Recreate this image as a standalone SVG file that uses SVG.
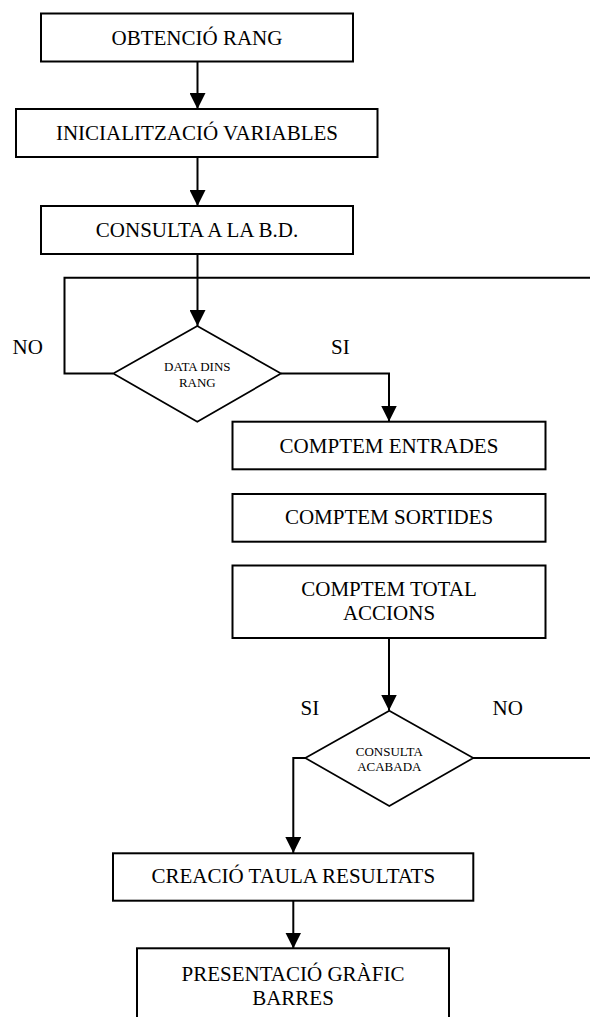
<svg xmlns="http://www.w3.org/2000/svg" width="590" height="1017" viewBox="0 0 590 1017">
<style>
.box{fill:#fff;stroke:#000;stroke-width:2}
.dia{fill:#fff;stroke:#000;stroke-width:1.7}
.t{font-family:"Liberation Serif","Times New Roman",serif;font-size:21px;fill:#000;text-anchor:middle}
.s{font-family:"Liberation Serif","Times New Roman",serif;font-size:13px;fill:#000;text-anchor:middle}
.lbl{font-family:"Liberation Serif","Times New Roman",serif;font-size:21px;fill:#000}
.c{fill:none;stroke:#000;stroke-width:2}
.a{marker-end:url(#arr)}
</style>
<defs>
<marker id="arr" markerUnits="userSpaceOnUse" markerWidth="16" markerHeight="16" refX="15" refY="7.5" orient="auto" viewBox="0 0 15 15">
<path d="M0,0 L15,7.5 L0,15 z" fill="#000"/>
</marker>
</defs>
<rect width="590" height="1017" fill="#fff"/>
<g id="connectors">
<line class="c a" x1="197.5" y1="62" x2="197.5" y2="109"/>
<line class="c a" x1="197.5" y1="157" x2="197.5" y2="206"/>
<line class="c a" x1="197.5" y1="254" x2="197.5" y2="326"/>
<polyline class="c" points="113,373.5 64.5,373.5 64.5,277.7 592,277.7"/>
<polyline class="c a" points="281,373.5 389,373.5 389,421.5"/>
<line class="c a" x1="389" y1="638" x2="389" y2="710.5"/>
<polyline class="c a" points="305.5,758 293.3,758 293.3,853"/>
<line class="c" x1="473" y1="758" x2="592" y2="758"/>
<line class="c a" x1="293.3" y1="901" x2="293.3" y2="948.5"/>
</g>
<g id="n1"><rect class="box" x="41" y="13.5" width="312" height="48"/><text class="t" x="197" y="44.5">OBTENCIÓ RANG</text></g>
<g id="n2"><rect class="box" x="16" y="109" width="361.5" height="48"/><text class="t" x="197" y="140.3">INICIALITZACIÓ VARIABLES</text></g>
<g id="n3"><rect class="box" x="41" y="206" width="312" height="48"/><text class="t" x="197" y="237.3">CONSULTA A LA B.D.</text></g>
<g id="d1"><polygon class="dia" points="197.3,326 281,373.5 197.3,421.7 113.3,373.5"/><text class="s" x="197.3" y="371">DATA DINS</text><text class="s" x="197.3" y="386.7">RANG</text></g>
<g id="lbl1"><text class="lbl" x="12.5" y="354.3">NO</text><text class="lbl" x="331" y="354.3">SI</text></g>
<g id="n4"><rect class="box" x="232.5" y="421.7" width="313" height="47.6"/><text class="t" x="389" y="452.7">COMPTEM ENTRADES</text></g>
<g id="n5"><rect class="box" x="232.5" y="494" width="313" height="47.7"/><text class="t" x="389" y="524.3">COMPTEM SORTIDES</text></g>
<g id="n6"><rect class="box" x="232.5" y="565.5" width="313" height="72.5"/><text class="t" x="389" y="595.7">COMPTEM TOTAL</text><text class="t" x="389" y="620">ACCIONS</text></g>
<g id="d2"><polygon class="dia" points="389.3,710.7 473.3,758 389.3,806 305.3,758"/><text class="s" x="389.3" y="756">CONSULTA</text><text class="s" x="389.3" y="771">ACABADA</text></g>
<g id="lbl2"><text class="lbl" x="300.5" y="715">SI</text><text class="lbl" x="492.5" y="715">NO</text></g>
<g id="n7"><rect class="box" x="113" y="853.3" width="360.3" height="47.4"/><text class="t" x="293.3" y="883.3">CREACIÓ TAULA RESULTATS</text></g>
<g id="n8"><rect class="box" x="137" y="948.3" width="312" height="80"/><text class="t" x="293" y="980.7">PRESENTACIÓ GRÀFIC</text><text class="t" x="293" y="1005">BARRES</text></g>
</svg>
